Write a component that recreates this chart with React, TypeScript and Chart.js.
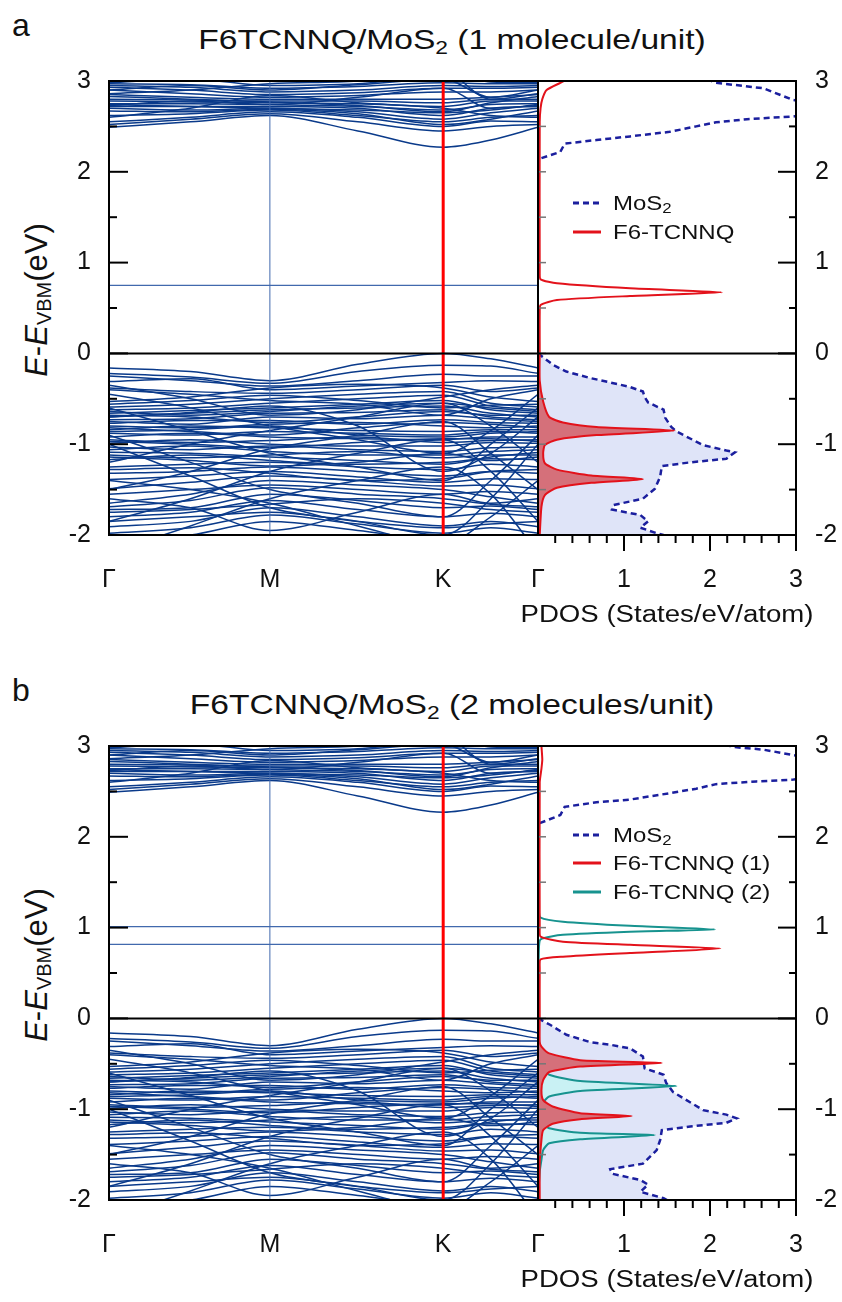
import React, { useEffect, useRef } from 'react';
import { Chart, registerables } from 'chart.js';

Chart.register(...registerables);

// ---------- style constants ----------
const FONT = "'Liberation Sans', Arial, Helvetica, sans-serif";
const TEXT = '#111111';
const BAND_BLUE = '#0a3a8a';
const LIGHT_BLUE = '#4169ad';
const K_RED = '#ff0000';
const MOS2_BLUE = '#1b1f9e';
const MOS2_FILL = '#dfe4f8';
const F6_RED = '#e3121b';
const F6_RED_FILL = '#d5707a';
const F6_TEAL = '#17938f';
const F6_TEAL_FILL = '#c9f1f4';

// ---------- axes ----------
const E_MIN = -2;
const E_MAX = 3;
const Y_MAJOR = [-2, -1, 0, 1, 2, 3];
const Y_MINOR = [-1.5, -0.5, 0.5, 1.5, 2.5];
const K_TICKS = [0, 0.375, 0.779, 1];
const K_LABELS = ['Γ', 'M', 'K', 'Γ'];
const PDOS_MAX = 3;
const PDOS_X_MAJOR = [1, 2, 3];
const PDOS_X_MINOR = [0.2, 0.4, 0.6, 0.8, 1.2, 1.4, 1.6, 1.8, 2.2, 2.4, 2.6, 2.8];

// k-path sample positions: Γ, Γ-M, M, M-K, K, K-Γ, Γ
const BAND_K = [0, 0.19, 0.375, 0.58, 0.779, 0.89, 1];

// ---------- band energies (eV) at BAND_K ----------
const CONDUCTION_BANDS = [
  [2.49, 2.55, 2.62, 2.45, 2.27, 2.35, 2.49],
  [2.52, 2.58, 2.64, 2.55, 2.45, 2.5, 2.52],
  [2.55, 2.6, 2.66, 2.6, 2.5, 2.56, 2.55],
  [2.62, 2.64, 2.68, 2.62, 2.55, 2.6, 2.62],
  [2.7, 2.68, 2.7, 2.66, 2.58, 2.65, 2.7],
  [2.72, 2.72, 2.72, 2.7, 2.62, 2.7, 2.72],
  [2.75, 2.75, 2.74, 2.72, 2.68, 2.74, 2.75],
  [2.78, 2.77, 2.76, 2.75, 2.72, 2.78, 2.78],
  [2.8, 2.79, 2.78, 2.78, 2.76, 2.8, 2.8],
  [2.85, 2.82, 2.8, 2.8, 2.8, 2.82, 2.85],
  [2.9, 2.86, 2.82, 2.84, 2.88, 2.88, 2.9],
  [2.93, 2.9, 2.85, 2.87, 2.92, 2.92, 2.93],
  [2.95, 2.93, 2.88, 2.9, 2.95, 2.94, 2.95],
  [2.97, 2.96, 2.92, 2.94, 2.98, 2.97, 2.97],
  [2.98, 3.02, 2.95, 2.97, 3.05, 2.99, 2.98],
  [2.6, 2.7, 2.84, 2.76, 2.7, 2.62, 2.6],
  [2.73, 2.78, 2.74, 2.82, 2.92, 2.7, 2.73],
  [2.9, 2.95, 2.9, 2.96, 3.02, 2.82, 2.9],
  [2.74, 2.72, 2.7, 2.68, 2.65, 2.68, 2.74],
  [2.86, 2.9, 2.97, 3.0, 3.1, 2.8, 2.86],
  [2.67, 2.66, 2.69, 2.64, 2.52, 2.58, 2.67],
  [2.83, 2.8, 2.77, 2.73, 2.66, 2.76, 2.83],
];

const VALENCE_BANDS = [
  [-0.16, -0.2, -0.3, -0.12, 0.0, -0.06, -0.16],
  [-0.22, -0.26, -0.33, -0.2, -0.13, -0.14, -0.22],
  [-0.25, -0.3, -0.36, -0.3, -0.23, -0.25, -0.25],
  [-0.31, -0.28, -0.4, -0.36, -0.32, -0.3, -0.31],
  [-0.38, -0.42, -0.44, -0.4, -0.35, -0.42, -0.38],
  [-0.53, -0.48, -0.38, -0.34, -0.38, -0.48, -0.53],
  [-0.59, -0.56, -0.5, -0.45, -0.42, -0.55, -0.59],
  [-0.62, -0.6, -0.55, -0.5, -0.46, -0.58, -0.62],
  [-0.66, -0.63, -0.6, -0.56, -0.52, -0.62, -0.66],
  [-0.7, -0.66, -0.62, -0.6, -0.58, -0.66, -0.7],
  [-0.73, -0.72, -0.66, -0.65, -0.62, -0.7, -0.73],
  [-0.75, -0.78, -0.7, -0.72, -0.68, -0.72, -0.75],
  [-0.77, -0.74, -0.74, -0.78, -0.73, -0.76, -0.77],
  [-0.8, -0.82, -0.78, -0.76, -0.8, -0.82, -0.8],
  [-0.84, -0.8, -0.82, -0.85, -0.86, -0.84, -0.84],
  [-0.88, -0.9, -0.86, -0.88, -0.9, -0.86, -0.88],
  [-0.92, -0.88, -0.92, -0.94, -0.95, -0.92, -0.92],
  [-0.95, -0.98, -0.96, -0.92, -0.98, -0.96, -0.95],
  [-0.99, -0.95, -1.0, -1.02, -1.02, -0.98, -0.99],
  [-1.03, -1.06, -1.02, -1.06, -1.08, -1.04, -1.03],
  [-1.06, -1.02, -1.08, -1.12, -1.12, -1.08, -1.06],
  [-1.12, -1.15, -1.12, -1.08, -1.15, -1.12, -1.12],
  [-1.17, -1.12, -1.18, -1.22, -1.2, -1.16, -1.17],
  [-1.25, -1.22, -1.2, -1.25, -1.28, -1.22, -1.25],
  [-1.32, -1.3, -1.25, -1.3, -1.35, -1.3, -1.32],
  [-1.39, -1.35, -1.3, -1.36, -1.42, -1.38, -1.39],
  [-1.49, -1.42, -1.35, -1.4, -1.46, -1.45, -1.49],
  [-1.65, -1.55, -1.4, -1.45, -1.5, -1.58, -1.65],
  [-1.69, -1.62, -1.48, -1.55, -1.6, -1.66, -1.69],
  [-1.72, -1.7, -1.55, -1.62, -1.7, -1.68, -1.72],
  [-1.8, -1.75, -1.62, -1.72, -1.8, -1.76, -1.8],
  [-1.91, -1.85, -1.7, -1.8, -1.9, -1.85, -1.91],
  [-1.98, -1.92, -1.78, -1.88, -1.98, -1.92, -1.98],
  [-2.1, -2.0, -1.85, -1.95, -2.05, -2.0, -2.1],
  [-0.45, -0.6, -0.8, -0.95, -1.1, -0.85, -0.45],
  [-1.2, -1.0, -0.85, -0.7, -0.55, -0.8, -1.2],
  [-0.6, -0.85, -1.1, -1.25, -1.4, -1.0, -0.6],
  [-1.5, -1.3, -1.05, -0.9, -0.75, -1.1, -1.5],
  [-0.9, -1.2, -1.5, -1.65, -1.8, -1.4, -0.9],
  [-1.85, -1.6, -1.3, -1.1, -0.95, -1.3, -1.85],
  [-1.0, -1.35, -1.7, -1.85, -2.0, -1.6, -1.0],
  [-2.2, -1.9, -1.6, -1.4, -1.25, -1.55, -2.2],
  [-0.7, -0.65, -0.58, -0.8, -1.3, -1.1, -0.7],
  [-1.6, -1.7, -1.95, -1.75, -1.55, -1.65, -1.6],
  [-1.4, -1.5, -1.65, -1.9, -2.1, -1.8, -1.4],
  [-0.35, -0.5, -0.68, -0.62, -0.48, -0.4, -0.35],
  [-0.56, -0.52, -0.46, -0.52, -0.6, -0.57, -0.56],
  [-0.64, -0.68, -0.64, -0.58, -0.55, -0.6, -0.64],
  [-0.68, -0.7, -0.76, -0.7, -0.64, -0.68, -0.68],
  [-0.82, -0.86, -0.9, -0.82, -0.76, -0.78, -0.82],
  [-0.86, -0.84, -0.8, -0.9, -0.92, -0.88, -0.86],
  [-0.97, -1.0, -1.04, -0.98, -0.94, -0.94, -0.97],
  [-1.09, -1.1, -1.14, -1.18, -1.22, -1.14, -1.09],
  [-1.14, -1.18, -1.24, -1.2, -1.1, -1.18, -1.14],
  [-1.28, -1.26, -1.32, -1.4, -1.38, -1.3, -1.28],
  [-1.55, -1.5, -1.45, -1.5, -1.55, -1.52, -1.55],
  [-1.75, -1.72, -1.66, -1.6, -1.65, -1.72, -1.75],
  [-1.85, -1.8, -1.75, -1.85, -1.92, -1.88, -1.85],
  [-0.4, -0.45, -0.52, -0.56, -0.68, -0.5, -0.4],
];

// flat molecular levels (eV)
const FLAT_A = [0.75];
const FLAT_B = [0.815, 1.01];

// ---------- PDOS curves: [states/eV/atom, energy eV] ----------
const MOS2_VB_A = [
  [0.0, 0.0], [0.18, -0.13], [0.33, -0.2], [0.6, -0.27], [0.84, -0.32], [1.07, -0.37],
  [1.22, -0.42], [1.24, -0.48], [1.28, -0.54], [1.46, -0.62], [1.48, -0.71], [1.55, -0.81],
  [1.61, -0.86], [1.92, -1.01], [2.19, -1.07], [2.29, -1.09], [2.19, -1.16], [1.77, -1.2],
  [1.44, -1.24], [1.42, -1.36], [1.36, -1.49], [1.22, -1.6], [0.88, -1.67], [0.86, -1.72],
  [1.19, -1.78], [1.28, -1.85], [1.19, -1.92], [1.38, -1.98], [1.46, -2.0],
];
const MOS2_CB_A = [
  [0.04, 2.15], [0.26, 2.22], [0.31, 2.31], [0.68, 2.35], [1.07, 2.39], [1.53, 2.44],
  [1.84, 2.5], [2.07, 2.545], [2.43, 2.58], [2.97, 2.61], [3.3, 2.65], [3.3, 2.75],
  [2.97, 2.79], [2.62, 2.92], [2.07, 2.98], [1.9, 3.05],
];
const F6_VB_A = [
  [0.02, 0.0], [0.02, -0.3], [0.06, -0.53], [0.13, -0.7], [0.29, -0.76], [0.68, -0.81],
  [1.59, -0.85], [0.68, -0.9], [0.22, -0.95], [0.08, -1.01], [0.06, -1.1], [0.08, -1.21],
  [0.22, -1.28], [0.62, -1.345], [1.22, -1.385], [0.62, -1.425], [0.22, -1.48], [0.08, -1.56],
  [0.04, -1.69], [0.02, -2.0],
];
const F6_CB_A = [
  [0.02, 0.0], [0.02, 0.45], [0.03, 0.533], [0.22, 0.588], [1.07, 0.632], [2.14, 0.673],
  [1.07, 0.717], [0.22, 0.772], [0.03, 0.816], [0.02, 0.9], [0.02, 2.55], [0.03, 2.7],
  [0.05, 2.8], [0.1, 2.9], [0.26, 2.98], [0.4, 3.05],
];

const MOS2_VB_B = [
  [0.0, 0.0], [0.14, -0.07], [0.33, -0.18], [0.6, -0.26], [0.84, -0.29], [1.07, -0.33],
  [1.22, -0.42], [1.24, -0.55], [1.46, -0.62], [1.49, -0.71], [1.57, -0.81], [1.92, -1.01],
  [2.19, -1.06], [2.31, -1.1], [2.19, -1.15], [1.77, -1.19], [1.44, -1.23], [1.42, -1.34],
  [1.38, -1.45], [1.22, -1.6], [0.84, -1.66], [0.86, -1.71], [1.19, -1.78], [1.28, -1.83],
  [1.19, -1.91], [1.46, -1.98], [1.5, -2.0],
];
const MOS2_CB_B = [
  [0.02, 2.15], [0.26, 2.24], [0.31, 2.33], [0.68, 2.38], [1.07, 2.41], [1.53, 2.48],
  [1.84, 2.53], [2.07, 2.58], [2.54, 2.61], [2.97, 2.63], [3.3, 2.66], [3.3, 2.85],
  [2.97, 2.9], [2.62, 2.96], [2.26, 2.99], [2.1, 3.05],
];
const F6_1_VB_B = [
  [0.02, 0.0], [0.02, -0.26], [0.04, -0.31], [0.13, -0.385], [0.49, -0.46], [1.44, -0.49],
  [0.49, -0.53], [0.13, -0.59], [0.06, -0.68], [0.04, -0.79], [0.06, -0.9], [0.17, -0.97],
  [0.49, -1.045], [1.09, -1.075], [0.49, -1.11], [0.17, -1.16], [0.06, -1.23], [0.04, -1.34],
  [0.02, -1.6], [0.02, -2.0],
];
const F6_1_CB_B = [
  [0.02, 0.0], [0.02, 0.55], [0.03, 0.65], [0.29, 0.68], [1.07, 0.72], [2.12, 0.77],
  [1.07, 0.81], [0.29, 0.845], [0.03, 0.9], [0.02, 1.0], [0.02, 2.6], [0.04, 2.75],
  [0.05, 2.85], [0.04, 3.0],
];
const F6_2_VB_B = [
  [0.0, 0.0], [0.02, -0.35], [0.06, -0.53], [0.13, -0.62], [0.49, -0.69], [1.61, -0.745],
  [0.49, -0.8], [0.13, -0.86], [0.06, -0.93], [0.05, -1.05], [0.06, -1.15], [0.13, -1.21],
  [0.49, -1.26], [1.36, -1.285], [0.49, -1.33], [0.13, -1.375], [0.06, -1.45], [0.04, -1.56],
  [0.02, -1.69], [0.0, -2.0],
];
const F6_2_CB_B = [
  [0.0, 0.0], [0.01, 0.75], [0.03, 0.87], [0.29, 0.92], [1.07, 0.955], [2.06, 0.98],
  [1.07, 1.02], [0.29, 1.065], [0.03, 1.11], [0.01, 1.2], [0.0, 3.0],
];

// ---------- decoration plugin: frame, zero line, tick marks ----------
const decorPlugin = {
  id: 'decor',
  afterDatasetsDraw(chart: any, _args: any, opts: any) {
    const { ctx, chartArea: a, scales } = chart;
    const ys = scales.y;
    const xs = scales.x;
    const seg = (x1: number, y1: number, x2: number, y2: number) => {
      ctx.beginPath();
      ctx.moveTo(x1, y1);
      ctx.lineTo(x2, y2);
      ctx.stroke();
    };
    ctx.save();
    ctx.lineCap = 'butt';
    if (opts.greyLeft) {
      ctx.strokeStyle = '#777777';
      ctx.lineWidth = 1.5;
      [...Y_MAJOR, ...Y_MINOR].forEach((v) => {
        const y = ys.getPixelForValue(v);
        seg(a.left, y, a.left + 8, y);
      });
    }
    ctx.strokeStyle = '#000000';
    ctx.lineWidth = 2;
    const y0 = ys.getPixelForValue(0);
    seg(a.left, y0, a.right, y0);
    if (opts.side === 'left') {
      Y_MAJOR.forEach((v) => { const y = ys.getPixelForValue(v); seg(a.left, y, a.left + 19, y); });
      Y_MINOR.forEach((v) => { const y = ys.getPixelForValue(v); seg(a.left, y, a.left + 8, y); });
    } else {
      Y_MAJOR.forEach((v) => { const y = ys.getPixelForValue(v); seg(a.right, y, a.right - 18, y); });
      Y_MINOR.forEach((v) => { const y = ys.getPixelForValue(v); seg(a.right, y, a.right - 7, y); });
    }
    if (opts.xTicks) {
      PDOS_X_MAJOR.forEach((v) => { const x = xs.getPixelForValue(v); seg(x, a.bottom, x, a.bottom + 16); });
      PDOS_X_MINOR.forEach((v) => { const x = xs.getPixelForValue(v); seg(x, a.bottom, x, a.bottom + 8); });
    }
    ctx.strokeRect(a.left, a.top, a.right - a.left, a.bottom - a.top);
    ctx.restore();
  },
};

const tickFont = { family: FONT, size: 25 };

const noPad = (s: any) => {
  s.paddingLeft = 0;
  s.paddingRight = 0;
  s.paddingTop = 0;
  s.paddingBottom = 0;
};

// ---------- band structure chart ----------
function bandConfig(flats: number[]) {
  const line = (pts: { x: number; y: number }[], color: string, width: number, mono = false) => ({
    data: pts,
    borderColor: color,
    borderWidth: width,
    pointRadius: 0,
    showLine: true,
    fill: false,
    cubicInterpolationMode: mono ? 'monotone' : 'default',
  });
  const datasets: any[] = [];
  datasets.push(line([{ x: K_TICKS[2], y: E_MIN }, { x: K_TICKS[2], y: E_MAX }], K_RED, 3));
  datasets.push(line([{ x: K_TICKS[1], y: E_MIN }, { x: K_TICKS[1], y: E_MAX }], LIGHT_BLUE, 1));
  flats.forEach((e) => datasets.push(line([{ x: K_TICKS[0], y: e }, { x: K_TICKS[3], y: e }], LIGHT_BLUE, 1.3)));
  [...VALENCE_BANDS, ...CONDUCTION_BANDS].forEach((b) =>
    datasets.push(line(BAND_K.map((k, i) => ({ x: k, y: b[i] })), BAND_BLUE, 1.5, true))
  );
  return {
    type: 'scatter',
    data: { datasets },
    plugins: [decorPlugin],
    options: {
      animation: false,
      responsive: false,
      maintainAspectRatio: false,
      layout: { padding: { top: 21, right: 22, bottom: 0, left: 0 } },
      plugins: {
        legend: { display: false },
        tooltip: { enabled: false },
        decor: { side: 'left' },
      },
      scales: {
        x: {
          type: 'linear',
          min: 0,
          max: 1,
          afterBuildTicks: (s: any) => { s.ticks = K_TICKS.map((v) => ({ value: v })); },
          ticks: {
            autoSkip: false,
            maxRotation: 0,
            padding: 30,
            font: tickFont,
            color: TEXT,
            callback: (_v: any, i: number) => K_LABELS[i],
          },
          grid: { display: false, drawTicks: false },
          border: { display: false },
          afterFit: (s: any) => { s.height = 93; noPad(s); },
        },
        y: {
          type: 'linear',
          min: E_MIN,
          max: E_MAX,
          ticks: { stepSize: 1, padding: 18, font: tickFont, color: TEXT },
          grid: { display: false, drawTicks: false },
          border: { display: false },
          afterFit: (s: any) => { s.width = 109; noPad(s); },
        },
      },
    },
  };
}

// ---------- PDOS chart ----------
type Curve = { pts: number[][]; color: string; fillColor?: string; dash?: number[] };

function pdosConfig(curves: Curve[]) {
  const datasets = curves.map((c) => ({
    data: c.pts.map(([d, e]) => ({ x: d, y: e })),
    borderColor: c.color,
    borderWidth: c.dash ? 2.5 : 2,
    borderDash: c.dash || [],
    pointRadius: 0,
    tension: c.dash ? 0 : 0.2,
    fill: c.fillColor ? 'origin' : false,
    backgroundColor: c.fillColor || 'transparent',
  }));
  return {
    type: 'line',
    data: { datasets },
    plugins: [decorPlugin],
    options: {
      indexAxis: 'y',
      animation: false,
      responsive: false,
      maintainAspectRatio: false,
      layout: { padding: { top: 21, right: 0, bottom: 0, left: 8 } },
      plugins: {
        legend: { display: false },
        tooltip: { enabled: false },
        decor: { side: 'right', xTicks: true, greyLeft: true },
      },
      scales: {
        x: {
          type: 'linear',
          min: 0,
          max: PDOS_MAX,
          ticks: {
            stepSize: 1,
            maxRotation: 0,
            padding: 30,
            font: tickFont,
            color: TEXT,
            callback: (v: any) => (v === 0 ? '' : String(v)),
          },
          grid: { display: false, drawTicks: false },
          border: { display: false },
          afterFit: (s: any) => { s.height = 93; noPad(s); },
        },
        y: {
          type: 'linear',
          position: 'right',
          min: E_MIN,
          max: E_MAX,
          ticks: { stepSize: 1, padding: 19, font: tickFont, color: TEXT },
          grid: { display: false, drawTicks: false },
          border: { display: false },
          afterFit: (s: any) => { s.width = 46; noPad(s); },
        },
      },
    },
  };
}

function ChartCanvas({ make, left, top, width, height }: any) {
  const ref = useRef<HTMLCanvasElement | null>(null);
  useEffect(() => {
    const chart = new Chart(ref.current as HTMLCanvasElement, make());
    return () => chart.destroy();
  }, []);
  return (
    <canvas
      ref={ref}
      width={width}
      height={height}
      style={{ position: 'absolute', left, top, width, height }}
    />
  );
}

function LegendRow({ y, color, dash, children }: any) {
  return (
    <>
      <svg style={{ position: 'absolute', left: 573, top: y - 3 }} width={28} height={6}>
        <line x1={0} y1={3} x2={28} y2={3} stroke={color} strokeWidth={3} strokeDasharray={dash ? '6 4' : undefined} />
      </svg>
      <div
        style={{
          position: 'absolute', left: 613, top: y - 10, fontSize: 20, lineHeight: '20px',
          whiteSpace: 'nowrap', transform: 'scaleX(1.2)', transformOrigin: 'left center',
        }}
      >
        {children}
      </div>
    </>
  );
}

function Panel({ dy, letter, count, flats, curves, legend }: any) {
  const canvasTop = 60 + dy;
  return (
    <>
      <div style={{ position: 'absolute', left: 12, top: 9 + dy, fontSize: 32, lineHeight: '32px' }}>
        {letter}
      </div>
      <div
        style={{
          position: 'absolute', left: 452, top: 26 + dy, fontSize: 28, lineHeight: '28px',
          whiteSpace: 'nowrap', transform: 'translateX(-50%) scaleX(1.2)',
        }}
      >
        F6TCNNQ/MoS<sub style={{ fontSize: 19, verticalAlign: '-5px' }}>2</sub> ({count})
      </div>
      <div
        style={{
          position: 'absolute', left: 40, top: 300 + dy, fontSize: 31, lineHeight: '31px',
          whiteSpace: 'nowrap', transform: 'translate(-50%, -50%) rotate(-90deg)',
        }}
      >
        <i>E</i>-<i>E</i>
        <sub style={{ fontSize: 20, verticalAlign: '-4px' }}>VBM</sub>(eV)
      </div>
      <ChartCanvas make={() => bandConfig(flats)} left={0} top={canvasTop} width={560} height={568} />
      <ChartCanvas make={() => pdosConfig(curves)} left={530} top={canvasTop} width={312} height={568} />
      {legend}
      <div
        style={{
          position: 'absolute', left: 667, top: 603 + dy, fontSize: 23, lineHeight: '23px',
          whiteSpace: 'nowrap', transform: 'translateX(-50%) scaleX(1.2)',
        }}
      >
        PDOS (States/eV/atom)
      </div>
    </>
  );
}

export default function App() {
  const curvesA: Curve[] = [
    { pts: F6_VB_A, color: F6_RED, fillColor: F6_RED_FILL },
    { pts: F6_CB_A, color: F6_RED },
    { pts: MOS2_VB_A, color: MOS2_BLUE, fillColor: MOS2_FILL, dash: [6, 4] },
    { pts: MOS2_CB_A, color: MOS2_BLUE, dash: [6, 4] },
  ];
  const curvesB: Curve[] = [
    { pts: F6_1_VB_B, color: F6_RED, fillColor: F6_RED_FILL },
    { pts: F6_1_CB_B, color: F6_RED },
    { pts: F6_2_VB_B, color: F6_TEAL, fillColor: F6_TEAL_FILL },
    { pts: F6_2_CB_B, color: F6_TEAL },
    { pts: MOS2_VB_B, color: MOS2_BLUE, fillColor: MOS2_FILL, dash: [6, 4] },
    { pts: MOS2_CB_B, color: MOS2_BLUE, dash: [6, 4] },
  ];
  const mos2 = <>MoS<sub style={{ fontSize: 14, verticalAlign: '-3px' }}>2</sub></>;
  return (
    <div
      style={{
        position: 'absolute', left: 0, top: 0, width: 842, height: 1302,
        background: '#ffffff', fontFamily: FONT, color: TEXT, overflow: 'hidden',
      }}
    >
      <Panel
        dy={0}
        letter="a"
        count="1 molecule/unit"
        flats={FLAT_A}
        curves={curvesA}
        legend={
          <>
            <LegendRow y={203} color={MOS2_BLUE} dash>{mos2}</LegendRow>
            <LegendRow y={232} color={F6_RED}>F6-TCNNQ</LegendRow>
          </>
        }
      />
      <Panel
        dy={665}
        letter="b"
        count="2 molecules/unit"
        flats={FLAT_B}
        curves={curvesB}
        legend={
          <>
            <LegendRow y={835} color={MOS2_BLUE} dash>{mos2}</LegendRow>
            <LegendRow y={863} color={F6_RED}>F6-TCNNQ (1)</LegendRow>
            <LegendRow y={892} color={F6_TEAL}>F6-TCNNQ (2)</LegendRow>
          </>
        }
      />
    </div>
  );
}
